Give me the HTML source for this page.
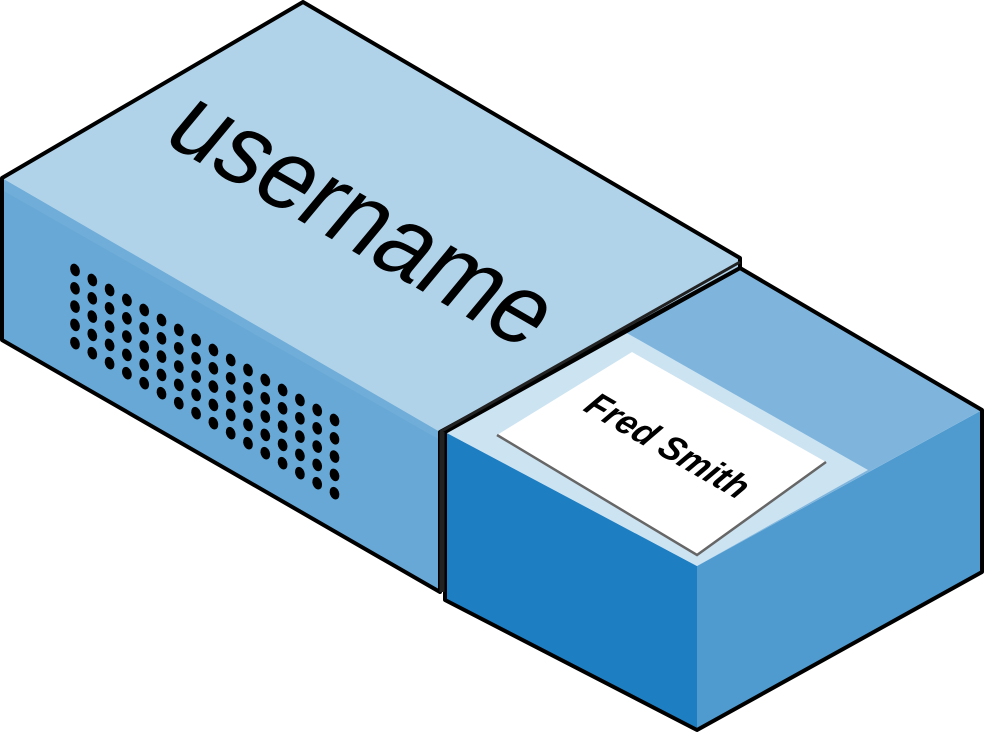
<!DOCTYPE html>
<html><head><meta charset="utf-8"><style>
html,body{margin:0;padding:0;background:#fff;}
svg{display:block;}
</style></head><body>
<svg width="984" height="733" viewBox="0 0 984 733" xmlns="http://www.w3.org/2000/svg">
<polygon points="445,432 697,566 697,730 445,600" fill="#1e7ec2"/>
<polygon points="697,566 982,410 982,572 697,730" fill="#4f9bd0"/>
<polygon points="445,432 740,268 982,410 697,566" fill="#7fb5dc"/>
<polygon points="445,432 625,332 868,470 697,566" fill="#cce3f2"/>
<polygon points="497,435 632,352 826,462 697,555" fill="#ffffff"/>
<polyline points="497,435 697,555 826,462" fill="none" stroke="#666" stroke-width="2.5"/>
<polygon points="445,432 445,600 697,730 982,572 982,410 740,268" fill="none" stroke="#000" stroke-width="4" stroke-linejoin="round"/>
<polygon points="2,178 440,430 440,592 2,340" fill="#68a8d6"/>
<polygon points="2,178 440,430 440,440 2,190" fill="#70add8"/>
<polygon points="2,178 303,2 740,258 740,268 440,432" fill="#b0d3ea"/>
<polygon points="2,178 303,2 740,258 740,268 440,432 440,592 2,340" fill="none" stroke="#000" stroke-width="4" stroke-linejoin="round"/>
<line x1="440" y1="432" x2="740" y2="262" stroke="#222" stroke-width="3"/>
<line x1="442" y1="432" x2="442" y2="592" stroke="#222" stroke-width="5"/>
<g fill="#000" id="dots"></g>
<text transform="matrix(0.866,0.5,-0.64,0.77,160,140)" font-family="Liberation Sans, sans-serif" font-size="104" textLength="420" lengthAdjust="spacingAndGlyphs" fill="#000">username</text>
<text transform="matrix(0.866,0.5,-0.64,0.77,582,410)" font-family="Liberation Sans, sans-serif" font-style="italic" font-weight="bold" font-size="36" textLength="180" lengthAdjust="spacingAndGlyphs" fill="#000">Fred Smith</text>
</svg>
<script>
var g=document.getElementById('dots');var s='';
for(var c=0;c<16;c++){for(var r=0;r<5;r++){var x=75+c*17.3,y=270+c*10+r*18.3;
s+='<ellipse cx="'+x+'" cy="'+y+'" rx="4.6" ry="6.5" transform="rotate(-20 '+x+' '+y+')"/>';}}
g.innerHTML=s;
</script>
</body></html>
